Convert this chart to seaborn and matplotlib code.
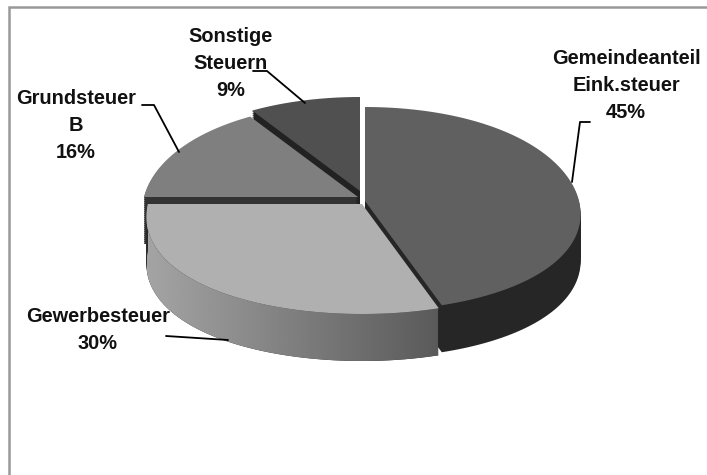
import numpy as np
import matplotlib
matplotlib.use('Agg')
import matplotlib.pyplot as plt
from matplotlib.patches import Polygon
import seaborn as sns

labels = ['Gemeindeanteil\nEink.steuer', 'Gewerbesteuer', 'Grundsteuer\nB', 'Sonstige\nSteuern']
values = [45, 30, 16, 9]

top_colors = ['#606060', '#b0b0b0', '#7f7f7f', '#505050']
wall_colors = ['#262626', '#2a2a2a', '#333333', '#222222']
offsets = [(5, 0), (2, 3), (-2, -4), (0, -10)]
label_pos = [(626, 58), (98, 316), (76, 98), (231, 36)]

sns.set_theme(style='white')
plt.rcParams['font.family'] = ['Liberation Sans', 'DejaVu Sans']

fig = plt.figure(figsize=(7.07, 4.75), dpi=100)
ax = fig.add_axes([0, 0, 1, 1])

# pie gives the wedge angles, the 3d look is projected from them
wedges, _ = ax.pie(values, startangle=90, counterclock=False, radius=1)
angles = [(w.theta1, w.theta2) for w in wedges]
for w in wedges:
    w.remove()
ax.axis('off')

DEPTH = 47


def project(u, v, off):
    # front of the pie is a little bigger than the back
    x = 360 + 214 * u * (1 - 0.117 * v + 0.055 * v ** 2) + off[0]
    y = 201 - 102 * v + 8 * v ** 2 + off[1]
    return x, y


def wedge_outline(t1, t2, off):
    t = np.radians(np.linspace(t1, t2, 120))
    u = np.concatenate([[0], np.cos(t)])
    v = np.concatenate([[0], np.sin(t)])
    return project(u, v, off)


for i in [3, 2, 0, 1]:
    t1, t2 = angles[i]
    x, y = wedge_outline(t1, t2, offsets[i])
    # dark body of the slice
    for d in range(DEPTH, 0, -2):
        ax.fill(x, y + d, color=wall_colors[i], lw=0)
    if i == 1:
        # outer side with the grey gradient
        t = np.radians(np.linspace(t1, t2, 160))
        xa, ya = project(np.cos(t), np.sin(t), offsets[i])
        side = Polygon(np.column_stack([np.concatenate([xa, xa[::-1]]),
                                        np.concatenate([ya, ya[::-1] + DEPTH])]),
                       transform=ax.transData, fc='none', lw=0)
        ax.add_patch(side)
        grad = np.linspace(0xa4, 0x5a, 300).reshape(1, -1) / 255
        im = ax.imshow(grad, cmap='gray', vmin=0, vmax=1, aspect='auto',
                       extent=(147, 438, 370, 190), zorder=1.5)
        im.set_clip_path(side)
    ax.fill(x, y, color=top_colors[i], lw=0, zorder=2)

ax.set_aspect('auto')
ax.set_xlim(0, 707)
ax.set_ylim(475, 0)

# frame, only left and top are inside the picture
ax.plot([9, 9, 707], [475, 7, 7], color='#999999', lw=1.8, solid_joinstyle='miter', zorder=3)

# leader lines
ax.plot([572, 580, 590], [182, 122, 122], color='black', lw=1.3, zorder=3)
ax.plot([142, 154, 179], [105, 105, 152], color='black', lw=1.3, zorder=3)
ax.plot([253, 267, 305], [71, 71, 103], color='black', lw=1.3, zorder=3)
ax.plot([166, 228], [336, 340], color='black', lw=1.3, zorder=3)

for lab, val, pos in zip(labels, values, label_pos):
    lines = lab.split('\n') + [f'{val}%']
    for n, line in enumerate(lines):
        ax.text(pos[0], pos[1] + n * 27.5, line, ha='center', va='center',
                fontsize=14.4, fontweight='bold', color='#111111', zorder=4)

fig.savefig('out.png', dpi=100, facecolor='white')
